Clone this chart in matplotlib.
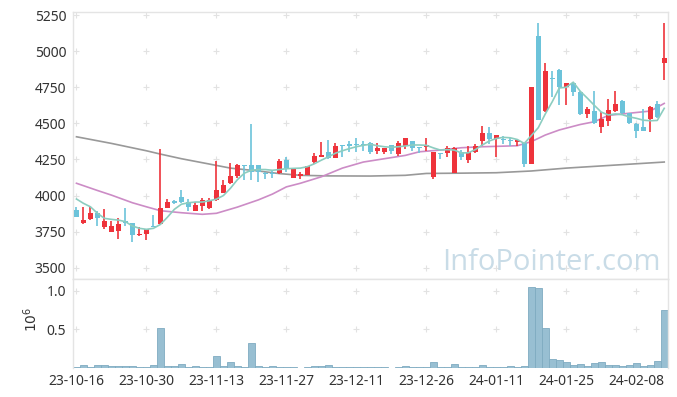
import numpy as np
import matplotlib
matplotlib.use('Agg')
import matplotlib.pyplot as plt

matplotlib.rcParams['font.family'] = ['Noto Sans', 'DejaVu Sans']
matplotlib.rcParams['font.size'] = 10

# 일봉 데이터 (23-10-16 ~ 24-02-16, 거래일 기준)
opens = [3900, 3807, 3835, 3877, 3784, 3750, 3756, 3823, 3807, 3725,
         3731, 3790, 3800, 3916, 3962, 3992, 3957, 3895, 3927, 3911,
         3969, 4020, 4089, 4137, 4212, 4211, 4211, 4158, 4155, 4158,
         4246, 4123, 4135, 4144, 4234, 4270, 4301, 4262, 4350, 4357,
         4352, 4350, 4366, 4310, 4299, 4350, 4287, 4343, 4377, 4330,
         4334, 4126, 4290, 4292, 4158, 4303, 4246, 4303, 4380, 4431,
         4394, 4390, 4385, 4372, 4361, 4216, 5105, 4587, 4815, 4869,
         4749, 4777, 4719, 4562, 4585, 4472, 4518, 4587, 4655, 4573,
         4495, 4476, 4528, 4632, 4920]
highs = [3922, 3918, 3922, 3895, 3904, 3826, 3842, 3911, 3810, 3784,
         3770, 3865, 4320, 3974, 3967, 4038, 3974, 3955, 3980, 3980,
         4241, 4107, 4223, 4218, 4212, 4495, 4211, 4165, 4170, 4253,
         4265, 4190, 4165, 4204, 4296, 4368, 4384, 4365, 4352, 4380,
         4396, 4380, 4372, 4364, 4332, 4352, 4380, 4400, 4380, 4332,
         4396, 4303, 4292, 4345, 4335, 4316, 4340, 4357, 4481, 4475,
         4420, 4410, 4398, 4390, 4365, 4753, 5192, 4920, 4864, 4875,
         4780, 4780, 4725, 4612, 4724, 4580, 4666, 4724, 4662, 4575,
         4500, 4600, 4620, 4657, 5197]
lows = [3850, 3805, 3830, 3789, 3766, 3748, 3697, 3789, 3678, 3722,
        3692, 3780, 3795, 3911, 3942, 3950, 3895, 3890, 3895, 3904,
        3965, 4015, 4080, 4120, 4110, 4107, 4095, 4115, 4120, 4150,
        4160, 4120, 4118, 4140, 4215, 4268, 4250, 4258, 4270, 4303,
        4303, 4305, 4290, 4290, 4288, 4290, 4275, 4325, 4305, 4294,
        4305, 4112, 4255, 4270, 4155, 4245, 4225, 4295, 4345, 4360,
        4270, 4360, 4345, 4345, 4200, 4216, 4520, 4580, 4684, 4627,
        4627, 4689, 4560, 4540, 4498, 4431, 4480, 4580, 4565, 4495,
        4396, 4448, 4442, 4540, 4800]
closes = [3853, 3830, 3881, 3842, 3823, 3789, 3803, 3807, 3725, 3733,
          3766, 3783, 3911, 3957, 3948, 3957, 3922, 3934, 3969, 3969,
          4038, 4073, 4135, 4211, 4205, 4165, 4165, 4150, 4150, 4239,
          4188, 4181, 4149, 4204, 4274, 4281, 4262, 4343, 4345, 4340,
          4348, 4347, 4303, 4329, 4329, 4306, 4361, 4398, 4327, 4326,
          4348, 4303, 4285, 4331, 4330, 4269, 4303, 4343, 4431, 4389,
          4417, 4385, 4380, 4382, 4218, 4753, 4523, 4864, 4805, 4749,
          4777, 4719, 4562, 4599, 4500, 4532, 4592, 4634, 4569, 4500,
          4445, 4450, 4615, 4546, 4950]
volumes = [17000, 35000, 9000, 35000, 35000, 22000, 22000, 22000, 22000, 9000,
           9000, 35000, 514000, 22000, 22000, 47000, 9000, 22000, 9000, 9000,
           155000, 22000, 78000, 22000, 9000, 324000, 22000, 9000, 22000, 9000,
           9000, 9000, 3000, 9000, 22000, 22000, 35000, 9000, 9000, 9000,
           9000, 9000, 9000, 9000, 9000, 2000, 9000, 22000, 9000, 9000,
           9000, 73000, 9000, 9000, 47000, 9000, 9000, 9000, 35000, 9000,
           9000, 9000, 22000, 9000, 22000, 1045000, 1032000, 514000, 112000, 104000,
           78000, 35000, 47000, 22000, 60000, 73000, 35000, 35000, 22000, 35000,
           60000, 22000, 35000, 86000, 747000]

# 이동평균선
ma5 = [3976, 3946, 3922, 3877, 3842, 3835, 3830, 3819, 3789, 3773,
       3766, 3773, 3800, 3850, 3905, 3940, 3950, 3955, 3955, 3964,
       3975, 4000, 4050, 4110, 4155, 4175, 4180, 4180, 4175, 4180,
       4186, 4188, 4190, 4200, 4220, 4245, 4268, 4293, 4310, 4325,
       4338, 4348, 4355, 4345, 4338, 4334, 4338, 4343, 4350, 4350,
       4348, 4330, 4315, 4318, 4315, 4295, 4296, 4318, 4350, 4378,
       4395, 4403, 4400, 4388, 4361, 4415, 4470, 4565, 4650, 4745,
       4750, 4785, 4722, 4675, 4625, 4578, 4558, 4565, 4560, 4545,
       4535, 4522, 4518, 4520, 4604]
ma20_idx = [0, 3, 5, 8, 10, 12, 15, 18, 20, 23, 26, 28, 30, 32, 35, 38, 41,
            44, 47, 49, 52, 55, 58, 61, 63, 65, 67, 69, 72, 74, 76, 79, 82, 84]
ma20_val = [4085, 4035, 4003, 3950, 3922, 3895, 3881, 3870, 3877, 3920, 3970,
            4010, 4060, 4085, 4130, 4190, 4232, 4255, 4278, 4303, 4315, 4331,
            4338, 4342, 4345, 4373, 4419, 4454, 4492, 4511, 4555, 4570, 4585, 4638]
ma60_idx = [0, 5, 10, 12, 15, 19, 22, 26, 29, 32, 36, 42, 47, 50, 55, 60,
            65, 70, 75, 80, 84]
ma60_val = [4407, 4361, 4310, 4287, 4255, 4218, 4190, 4170, 4152, 4140, 4136,
            4135, 4140, 4153, 4155, 4158, 4170, 4190, 4205, 4220, 4232]

tick_idx = [0, 10, 20, 30, 40, 50, 60, 70, 80]
tick_labels = ['23-10-16', '23-10-30', '23-11-13', '23-11-27', '23-12-11',
               '23-12-26', '24-01-11', '24-01-25', '24-02-08']
price_ticks = [3500, 3750, 4000, 4250, 4500, 4750, 5000, 5250]

UP = '#ee333b'
DOWN = '#6cc3da'
TXT = '#333333'
SPINE = '#e4e4e4'
CROSS = '#e2e2e2'

fig = plt.figure(figsize=(6.77, 3.97), dpi=100)
ax = fig.add_axes([0.1083, 0.2972, 0.878, 0.6733])
axv = fig.add_axes([0.1083, 0.0730, 0.878, 0.2242])

x = np.arange(len(opens))
o = np.array(opens)
c = np.array(closes)
up = c >= o
body_lo = np.minimum(o, c)
body_h = np.maximum(np.abs(c - o), 8)
colors = np.where(up, UP, DOWN)

# 그리드 대신 십자 표시
xx, yy = np.meshgrid(tick_idx, price_ticks)
ax.plot(xx.ravel(), yy.ravel(), '+', color=CROSS, ms=4, mew=0.8, zorder=0)

ax.vlines(x, lows, highs, colors=colors, linewidth=1.2, zorder=2)
ax.bar(x, body_h, bottom=body_lo, width=0.72, color=colors, linewidth=0, zorder=3)

ax.plot(ma60_idx, ma60_val, color='#999999', linewidth=1.2, zorder=1)
ax.plot(ma20_idx, ma20_val, color='#cc8cc6', linewidth=1.2, zorder=1)
ax.plot(x, ma5, color='#8ccdc0', linewidth=1.2, zorder=4)

ax.set_xlim(-0.45, 84.5)
ax.set_ylim(3422, 5273)
ax.set_yticks(price_ticks)
ax.set_yticklabels([str(p) for p in price_ticks])
ax.set_xticks(tick_idx)
ax.tick_params(axis='x', labelbottom=False, length=0)
ax.tick_params(axis='y', length=0, pad=5, colors=TXT, labelsize=10)

ax.text(0.804, 0.034, 'InfoPointer.com', transform=ax.transAxes, ha='center',
        va='baseline', fontsize=21, color='#c9dce7', family=['Open Sans', 'DejaVu Sans'],
        zorder=0)

# 거래량
xx2, yy2 = np.meshgrid(tick_idx, [0.5e6, 1.0e6])
axv.plot(xx2.ravel(), yy2.ravel(), '+', color=CROSS, ms=4, mew=0.8, zorder=0)
axv.bar(x, volumes, width=0.95, color='#98bfd2', edgecolor='#7fabc1', linewidth=0.6)
axv.set_xlim(-0.45, 84.5)
axv.set_ylim(0, 1.153e6)
axv.set_yticks([0.5e6, 1.0e6])
axv.set_yticklabels(['0.5', '1.0'])
axv.set_xticks(tick_idx)
axv.set_xticklabels(tick_labels)
axv.tick_params(length=0, colors=TXT, labelsize=10)
axv.tick_params(axis='y', pad=5)
axv.tick_params(axis='x', pad=4)
fig.text(0.047, 0.195, '$10^6$', rotation=90, ha='center', va='center',
         color=TXT, fontsize=10)

for a in (ax, axv):
    for s in a.spines.values():
        s.set_color(SPINE)
        s.set_linewidth(1)
axv.spines['bottom'].set_visible(False)

fig.savefig('out.png', dpi=100)
